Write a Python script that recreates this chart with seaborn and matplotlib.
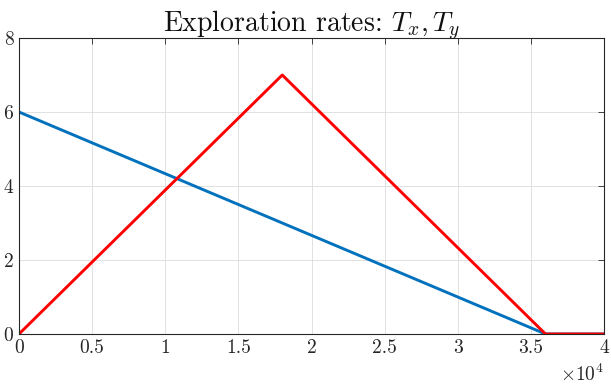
import matplotlib
matplotlib.use("Agg")
import matplotlib.pyplot as plt
import seaborn as sns
import pandas as pd

# Data
iterations_x = [0, 36000, 40000]
rate_x = [6, 0, 0]
iterations_y = [0, 18000, 36000, 40000]
rate_y = [0, 7, 0, 0]
xticks = [0, 5000, 10000, 15000, 20000, 25000, 30000, 35000, 40000]
xtick_labels = ["0", "0.5", "1", "1.5", "2", "2.5", "3", "3.5", "4"]
yticks = [0, 2, 4, 6, 8]

sns.set_style("white")
plt.rcParams["font.family"] = "serif"
plt.rcParams["font.serif"] = ["cmr10"]
plt.rcParams["mathtext.fontset"] = "cm"
plt.rcParams["axes.formatter.use_mathtext"] = True

df_x = pd.DataFrame({"it": iterations_x, "rate": rate_x})
df_y = pd.DataFrame({"it": iterations_y, "rate": rate_y})

fig = plt.figure(figsize=(6.11, 3.86), dpi=100)
ax = fig.add_axes([19/611, 52/386, 585/611, 296/386])

sns.lineplot(data=df_x, x="it", y="rate", ax=ax, color="#0072BD", linewidth=2.1, sort=False)
sns.lineplot(data=df_y, x="it", y="rate", ax=ax, color="#FF0000", linewidth=2.1, sort=False)

ax.set_xlim(0, 40000)
ax.set_ylim(0, 8)
ax.set_xticks(xticks)
ax.set_xticklabels(xtick_labels)
ax.set_yticks(yticks)
ax.set_yticklabels([str(v) for v in yticks])
ax.set_xlabel("")
ax.set_ylabel("")
ax.grid(True, color="#dcdcdc", linewidth=0.6)
ax.set_axisbelow(True)
for s in ax.spines.values():
    s.set_color("#262626")
    s.set_linewidth(0.8)
    s.set_visible(True)
ax.tick_params(direction="in", length=4, width=0.6, color="#262626",
               top=True, right=True, labelsize=14, pad=4, labelcolor="#262626")
ax.set_title(r"Exploration rates: $T_x, T_y$", fontsize=20, pad=4, color="#111111")
ax.text(1.0, -0.1, r"$\times10^4$", transform=ax.transAxes, ha="right", va="top",
        fontsize=14, color="#262626")

fig.savefig("out.png", dpi=100)
